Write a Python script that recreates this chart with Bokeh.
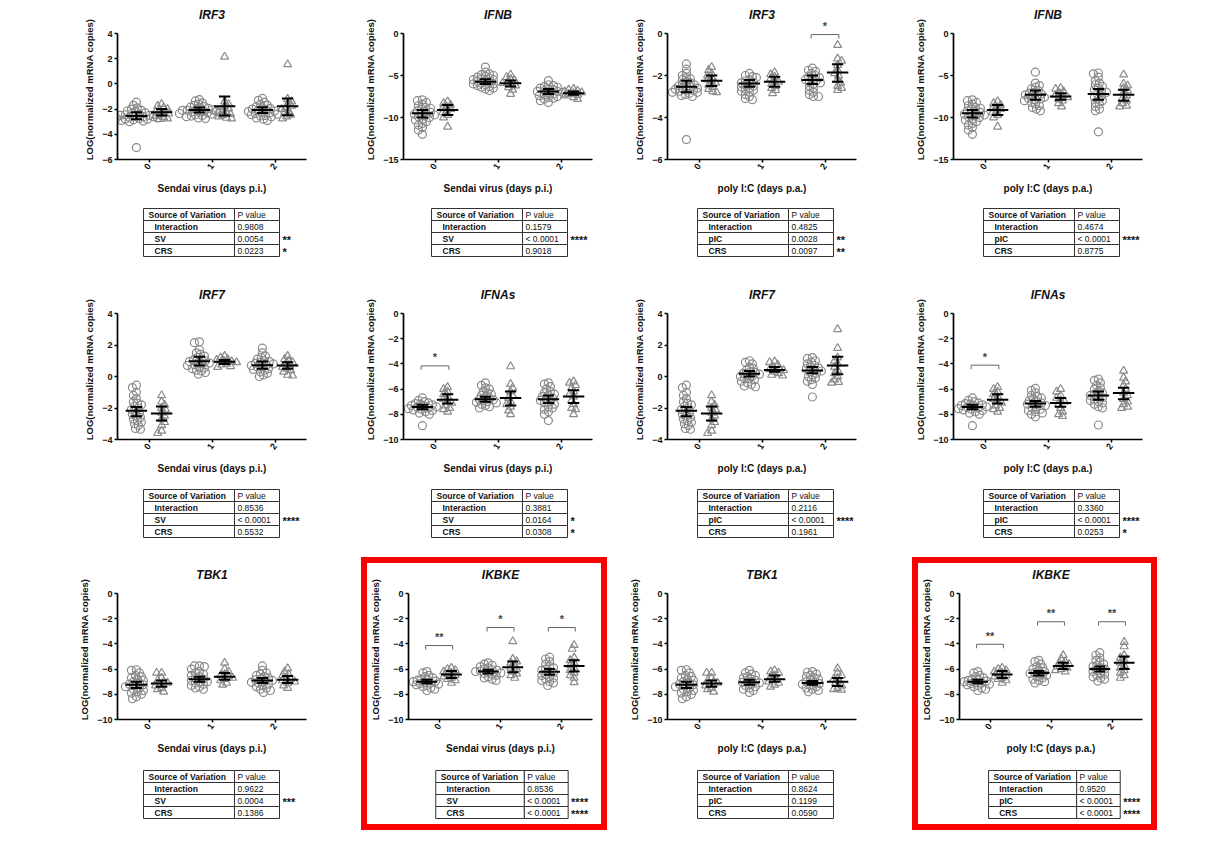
from bokeh.plotting import figure
from bokeh.models import Range1d, FixedTicker, ColumnDataSource, Spacer
from bokeh.layouts import row, column
from bokeh.embed import file_html
from bokeh.resources import INLINE
from bokeh.core.properties import value

FONT = "Liberation Sans"

# ---------------------------------------------------------------- data
days = [0, 1, 2]
sv_label = "Sendai virus (days p.i.)"
pic_label = "poly I:C (days p.a.)"
sv_rows = ["Interaction", "SV", "CRS"]
pic_rows = ["Interaction", "pIC", "CRS"]

# day 0 (shared by both stimulations)
irf3_d0_ctrl = [-1.45, -1.7, -1.9, -2.0, -2.1, -2.15, -2.2, -2.3, -2.35, -2.4, -2.45, -2.5, -2.5, -2.55, -2.6, -2.6, -2.65, -2.7, -2.7, -2.75, -2.8, -2.8, -2.85, -2.9, -2.95, -3.0, -5.05]
irf3_d0_crs = [-1.6, -1.75, -1.9, -2.0, -2.1, -2.2, -2.3, -2.35, -2.45, -2.55, -2.65, -2.75, -2.8]
ifnb_d0_ctrl = [-7.9, -8.0, -8.2, -8.4, -8.6, -8.8, -8.9, -9.0, -9.2, -9.3, -9.4, -9.5, -9.6, -9.7, -9.8, -9.9, -10.0, -10.2, -10.3, -10.5, -10.7, -10.9, -11.2, -11.5, -12.0]
ifnb_d0_crs = [-8.1, -8.3, -8.5, -8.7, -8.9, -9.0, -9.2, -9.4, -9.7, -10.0, -11.1]
irf7_d0_ctrl = [-0.55, -0.7, -1.0, -1.2, -1.4, -1.6, -1.7, -1.8, -1.9, -2.0, -2.1, -2.2, -2.3, -2.4, -2.5, -2.6, -2.7, -2.8, -2.9, -3.0, -3.1, -3.3, -3.35]
irf7_d0_crs = [-1.2, -1.6, -1.8, -2.0, -2.1, -2.3, -2.5, -2.7, -2.9, -3.1, -3.45, -3.6]
ifnas_d0_ctrl = [-6.7, -6.9, -7.0, -7.1, -7.15, -7.2, -7.25, -7.3, -7.35, -7.4, -7.45, -7.5, -7.55, -7.6, -7.65, -7.7, -7.8, -7.9, -8.0, -8.9]
ifnas_d0_crs = [-5.85, -6.0, -6.2, -6.4, -6.6, -6.8, -7.0, -7.1, -7.3, -7.5, -7.6, -7.8]
tbk1_d0_ctrl = [-6.05, -6.1, -6.3, -6.5, -6.6, -6.7, -6.8, -6.9, -7.0, -7.1, -7.2, -7.25, -7.3, -7.4, -7.5, -7.6, -7.7, -7.8, -7.9, -8.0, -8.2, -8.35]
tbk1_d0_crs = [-6.3, -6.3, -6.7, -6.9, -7.0, -7.1, -7.2, -7.3, -7.5, -7.6, -7.8]
ikbke_d0_ctrl = [-6.2, -6.3, -6.5, -6.6, -6.7, -6.8, -6.85, -6.9, -6.95, -7.0, -7.05, -7.1, -7.15, -7.2, -7.25, -7.3, -7.4, -7.5, -7.6, -7.7]
ikbke_d0_crs = [-5.9, -6.0, -6.1, -6.2, -6.3, -6.4, -6.5, -6.6, -6.7, -6.8, -6.9, -7.1]

# IRF3 / Sendai
irf3_sv_d1_ctrl = [-1.25, -1.35, -1.5, -1.6, -1.7, -1.8, -1.85, -1.9, -1.95, -2.0, -2.05, -2.1, -2.1, -2.15, -2.2, -2.2, -2.25, -2.3, -2.3, -2.35, -2.4, -2.45, -2.5, -2.55, -2.6, -2.7, -2.75]
irf3_sv_d1_crs = [2.15, -1.4, -1.6, -1.8, -1.95, -2.1, -2.2, -2.3, -2.4, -2.5, -2.6, -2.7, -2.75]
irf3_sv_d2_ctrl = [-1.15, -1.3, -1.45, -1.6, -1.7, -1.8, -1.9, -1.95, -2.0, -2.05, -2.1, -2.15, -2.2, -2.25, -2.3, -2.35, -2.4, -2.45, -2.5, -2.55, -2.6, -2.7, -2.8, -2.9]
irf3_sv_d2_crs = [1.55, -1.2, -1.4, -1.6, -1.75, -1.9, -2.0, -2.15, -2.3, -2.45, -2.6, -2.75]
irf3_sv_ctrl_ci = [(-2.8, -2.54, -2.25), (-2.27, -2.08, -1.87), (-2.3, -2.08, -1.85)]
irf3_sv_crs_ci = [(-2.5, -2.25, -2.0), (-2.5, -1.77, -1.0), (-2.48, -1.77, -1.16)]
irf3_sv_pvals = ["0.9808", "0.0054", "0.0223"]
irf3_sv_stars = ["", "**", "*"]

# IFNB / Sendai
ifnb_sv_d1_ctrl = [-4.0, -4.6, -4.8, -4.9, -5.0, -5.1, -5.2, -5.3, -5.4, -5.5, -5.5, -5.6, -5.7, -5.8, -5.9, -6.0, -6.0, -6.1, -6.2, -6.3, -6.4, -6.5, -6.6, -6.8]
ifnb_sv_d1_crs = [-4.9, -5.2, -5.4, -5.6, -5.8, -5.9, -6.0, -6.2, -6.4, -6.7, -7.2]
ifnb_sv_d2_ctrl = [-5.6, -6.1, -6.2, -6.3, -6.4, -6.5, -6.6, -6.7, -6.8, -6.9, -6.9, -7.0, -7.1, -7.2, -7.3, -7.4, -7.5, -7.6, -7.7, -7.8, -8.0, -8.2]
ifnb_sv_d2_crs = [-6.6, -6.7, -6.8, -6.9, -7.0, -7.1, -7.2, -7.3, -7.4, -7.6, -7.8]
ifnb_sv_ctrl_ci = [(-10.0, -9.5, -9.1), (-6.0, -5.73, -5.45), (-7.2, -6.9, -6.6)]
ifnb_sv_crs_ci = [(-9.7, -9.1, -8.5), (-6.3, -5.93, -5.6), (-7.3, -7.1, -6.9)]
ifnb_sv_pvals = ["0.1579", "< 0.0001", "0.9018"]
ifnb_sv_stars = ["", "****", ""]

# IRF3 / poly I:C
irf3_pic_d1_ctrl = [-1.9, -2.0, -2.05, -2.1, -2.2, -2.25, -2.3, -2.35, -2.4, -2.45, -2.5, -2.55, -2.6, -2.65, -2.7, -2.75, -2.8, -2.9, -3.0, -3.1, -3.15]
irf3_pic_d1_crs = [-1.85, -1.95, -2.05, -2.15, -2.25, -2.3, -2.4, -2.5, -2.6, -2.7, -2.85]
irf3_pic_d2_ctrl = [-1.65, -1.75, -1.8, -1.9, -2.0, -2.05, -2.1, -2.15, -2.2, -2.25, -2.3, -2.35, -2.4, -2.5, -2.6, -2.7, -2.8, -2.9, -3.0, -3.0]
irf3_pic_d2_crs = [-0.55, -1.2, -1.3, -1.5, -1.75, -1.9, -2.0, -2.2, -2.35, -2.5, -2.6, -2.7]
irf3_pic_ctrl_ci = [(-2.8, -2.54, -2.25), (-2.54, -2.38, -2.22), (-2.4, -2.22, -2.0)]
irf3_pic_crs_ci = [(-2.5, -2.25, -2.0), (-2.54, -2.3, -2.06), (-2.3, -1.86, -1.46)]
irf3_pic_brackets = [(2, -0.05, "*")]
irf3_pic_pvals = ["0.4825", "0.0028", "0.0097"]
irf3_pic_stars = ["", "**", "**"]

# IFNB / poly I:C
ifnb_pic_d1_ctrl = [-4.6, -5.9, -6.2, -6.4, -6.6, -6.8, -7.0, -7.1, -7.2, -7.3, -7.4, -7.5, -7.6, -7.7, -7.8, -7.9, -8.0, -8.2, -8.4, -8.6, -8.8, -9.0, -9.2]
ifnb_pic_d1_crs = [-6.5, -6.6, -6.9, -7.1, -7.3, -7.5, -7.6, -7.8, -8.0, -8.3, -8.7]
ifnb_pic_d2_ctrl = [-4.7, -4.8, -5.2, -5.6, -5.9, -6.1, -6.3, -6.5, -6.7, -6.9, -7.0, -7.2, -7.4, -7.6, -7.8, -8.0, -8.2, -8.4, -8.7, -9.0, -9.2, -11.7]
ifnb_pic_d2_crs = [-4.9, -6.0, -6.2, -6.5, -6.8, -7.0, -7.4, -7.7, -8.0, -8.3, -8.6, -8.7]
ifnb_pic_ctrl_ci = [(-10.0, -9.5, -9.1), (-7.9, -7.3, -6.8), (-7.9, -7.2, -6.6)]
ifnb_pic_crs_ci = [(-9.7, -9.1, -8.5), (-7.9, -7.5, -7.1), (-8.0, -7.3, -6.7)]
ifnb_pic_pvals = ["0.4674", "< 0.0001", "0.8775"]
ifnb_pic_stars = ["", "****", ""]

# IRF7 / Sendai
irf7_sv_d1_ctrl = [2.2, 2.15, 1.7, 1.5, 1.4, 1.3, 1.2, 1.1, 1.05, 1.0, 0.95, 0.9, 0.85, 0.8, 0.75, 0.7, 0.6, 0.55, 0.5, 0.4, 0.35, 0.25, 0.15]
irf7_sv_d1_crs = [1.3, 1.2, 1.1, 1.05, 1.0, 0.95, 0.9, 0.8, 0.75, 0.65, 0.6]
irf7_sv_d2_ctrl = [1.8, 1.5, 1.3, 1.2, 1.1, 1.0, 0.95, 0.9, 0.85, 0.8, 0.75, 0.7, 0.65, 0.6, 0.5, 0.45, 0.4, 0.3, 0.2, 0.1, 0.0]
irf7_sv_d2_crs = [1.3, 1.1, 1.0, 0.9, 0.8, 0.7, 0.6, 0.5, 0.4, 0.3, 0.1, 0.05]
irf7_sv_ctrl_ci = [(-2.52, -2.18, -1.93), (0.7, 0.97, 1.25), (0.5, 0.72, 0.95)]
irf7_sv_crs_ci = [(-2.8, -2.35, -1.9), (0.8, 0.93, 1.05), (0.5, 0.7, 0.9)]
irf7_sv_pvals = ["0.8536", "< 0.0001", "0.5532"]
irf7_sv_stars = ["", "****", ""]

# IFNAs / Sendai
ifnas_sv_d1_ctrl = [-5.5, -5.7, -5.9, -6.0, -6.2, -6.3, -6.4, -6.5, -6.6, -6.7, -6.8, -6.85, -6.9, -7.0, -7.05, -7.1, -7.2, -7.3, -7.4, -7.5]
ifnas_sv_d1_crs = [-4.2, -5.6, -5.9, -6.2, -6.5, -6.7, -7.0, -7.2, -7.4, -7.7, -8.0]
ifnas_sv_d2_ctrl = [-5.5, -5.6, -5.8, -6.0, -6.2, -6.3, -6.4, -6.5, -6.6, -6.7, -6.8, -6.9, -7.0, -7.1, -7.2, -7.4, -7.5, -7.6, -7.8, -8.0, -8.5]
ifnas_sv_d2_crs = [-5.4, -5.5, -5.7, -5.9, -6.2, -6.4, -6.6, -6.9, -7.2, -7.5, -7.6, -8.0]
ifnas_sv_ctrl_ci = [(-7.6, -7.42, -7.25), (-7.0, -6.8, -6.6), (-7.1, -6.8, -6.5)]
ifnas_sv_crs_ci = [(-7.15, -6.85, -6.4), (-7.3, -6.7, -6.2), (-7.1, -6.58, -6.1)]
ifnas_sv_brackets = [(0, -4.16, "*")]
ifnas_sv_pvals = ["0.3881", "0.0164", "0.0308"]
ifnas_sv_stars = ["", "*", "*"]

# IRF7 / poly I:C
irf7_pic_d1_ctrl = [1.0, 0.9, 0.8, 0.6, 0.5, 0.4, 0.3, 0.25, 0.2, 0.15, 0.1, 0.05, 0.0, -0.1, -0.15, -0.2, -0.3, -0.4, -0.5, -0.6, -0.65]
irf7_pic_d1_crs = [0.95, 0.9, 0.75, 0.6, 0.5, 0.45, 0.4, 0.3, 0.2, 0.1, 0.05]
irf7_pic_d2_ctrl = [1.2, 1.15, 1.0, 0.9, 0.8, 0.7, 0.6, 0.55, 0.5, 0.4, 0.35, 0.3, 0.2, 0.1, 0.0, -0.1, -0.2, -0.3, -0.5, -1.3]
irf7_pic_d2_crs = [3.0, 1.8, 1.2, 1.0, 0.8, 0.6, 0.4, 0.2, 0.0, -0.2, -0.35, -0.4]
irf7_pic_ctrl_ci = [(-2.52, -2.18, -1.93), (0.0, 0.17, 0.35), (0.2, 0.38, 0.6)]
irf7_pic_crs_ci = [(-2.8, -2.35, -1.9), (0.3, 0.42, 0.6), (0.15, 0.7, 1.25)]
irf7_pic_pvals = ["0.2116", "< 0.0001", "0.1961"]
irf7_pic_stars = ["", "****", ""]

# IFNAs / poly I:C
ifnas_pic_d1_ctrl = [-5.95, -6.1, -6.3, -6.5, -6.6, -6.7, -6.8, -6.9, -7.0, -7.1, -7.15, -7.2, -7.3, -7.4, -7.5, -7.6, -7.7, -7.8, -7.9, -8.0, -8.2]
ifnas_pic_d1_crs = [-6.0, -6.2, -6.5, -6.7, -6.9, -7.0, -7.2, -7.5, -7.8, -8.0, -8.15]
ifnas_pic_d2_ctrl = [-5.2, -5.3, -5.5, -5.7, -5.9, -6.0, -6.2, -6.3, -6.4, -6.5, -6.6, -6.7, -6.8, -6.9, -7.0, -7.1, -7.2, -7.4, -7.5, -8.85]
ifnas_pic_d2_crs = [-4.55, -5.1, -5.4, -5.7, -6.0, -6.3, -6.5, -6.8, -7.0, -7.2, -7.4, -7.5]
ifnas_pic_ctrl_ci = [(-7.6, -7.42, -7.25), (-7.4, -7.15, -6.95), (-6.85, -6.5, -6.2)]
ifnas_pic_crs_ci = [(-7.15, -6.85, -6.4), (-7.4, -7.1, -6.7), (-6.8, -6.3, -5.9)]
ifnas_pic_brackets = [(0, -4.1, "*")]
ifnas_pic_pvals = ["0.3360", "< 0.0001", "0.0253"]
ifnas_pic_stars = ["", "****", "*"]

# TBK1 / Sendai
tbk1_sv_d1_ctrl = [-5.75, -5.75, -5.8, -6.0, -6.2, -6.3, -6.4, -6.5, -6.6, -6.7, -6.8, -6.9, -7.0, -7.0, -7.1, -7.2, -7.3, -7.4, -7.5, -7.6]
tbk1_sv_d1_crs = [-5.5, -6.0, -6.2, -6.4, -6.5, -6.6, -6.7, -6.8, -6.9, -7.1, -7.25]
tbk1_sv_d2_ctrl = [-5.75, -6.1, -6.3, -6.4, -6.5, -6.6, -6.7, -6.8, -6.85, -6.9, -7.0, -7.05, -7.1, -7.2, -7.3, -7.4, -7.5, -7.6, -7.7, -7.85]
tbk1_sv_d2_crs = [-5.95, -6.2, -6.4, -6.5, -6.7, -6.8, -6.9, -7.0, -7.1, -7.3, -7.5]
tbk1_sv_ctrl_ci = [(-7.5, -7.25, -7.0), (-7.0, -6.8, -6.6), (-7.1, -6.9, -6.7)]
tbk1_sv_crs_ci = [(-7.4, -7.15, -6.9), (-6.85, -6.6, -6.3), (-7.1, -6.85, -6.55)]
tbk1_sv_pvals = ["0.9622", "0.0004", "0.1386"]
tbk1_sv_stars = ["", "***", ""]

# IKBKE / Sendai
ikbke_sv_d1_ctrl = [-5.5, -5.6, -5.7, -5.8, -5.9, -6.0, -6.05, -6.1, -6.15, -6.2, -6.25, -6.3, -6.35, -6.4, -6.5, -6.6, -6.7, -6.8, -6.9]
ikbke_sv_d1_crs = [-3.8, -5.2, -5.4, -5.5, -5.7, -5.9, -6.0, -6.2, -6.35, -6.5, -6.7]
ikbke_sv_d2_ctrl = [-5.05, -5.2, -5.4, -5.6, -5.8, -5.9, -6.0, -6.1, -6.2, -6.3, -6.4, -6.5, -6.6, -6.7, -6.8, -6.9, -7.0, -7.1, -7.3]
ikbke_sv_d2_crs = [-4.1, -4.4, -5.1, -5.3, -5.5, -5.7, -5.9, -6.1, -6.3, -6.5, -6.7, -7.05]
ikbke_sv_ctrl_ci = [(-7.15, -7.0, -6.85), (-6.35, -6.2, -6.05), (-6.45, -6.22, -6.0)]
ikbke_sv_crs_ci = [(-6.7, -6.42, -6.15), (-6.25, -5.85, -5.4), (-6.2, -5.75, -5.3)]
ikbke_sv_brackets = [(0, -4.13, "**"), (1, -2.7, "*"), (2, -2.7, "*")]
ikbke_sv_pvals = ["0.8536", "< 0.0001", "< 0.0001"]
ikbke_sv_stars = ["", "****", "****"]

# TBK1 / poly I:C
tbk1_pic_d1_ctrl = [-6.1, -6.3, -6.4, -6.5, -6.6, -6.7, -6.8, -6.9, -7.0, -7.05, -7.1, -7.2, -7.3, -7.4, -7.5, -7.6, -7.7, -7.85]
tbk1_pic_d1_crs = [-6.1, -6.2, -6.3, -6.5, -6.6, -6.8, -6.9, -7.0, -7.1, -7.25, -7.4]
tbk1_pic_d2_ctrl = [-6.2, -6.25, -6.4, -6.5, -6.6, -6.7, -6.8, -6.9, -7.0, -7.1, -7.15, -7.2, -7.3, -7.4, -7.5, -7.6, -7.7, -7.8]
tbk1_pic_d2_crs = [-5.95, -6.3, -6.5, -6.7, -6.8, -7.0, -7.1, -7.3, -7.5, -7.6, -7.65]
tbk1_pic_ctrl_ci = [(-7.5, -7.25, -7.0), (-7.25, -7.05, -6.85), (-7.25, -7.1, -6.95)]
tbk1_pic_crs_ci = [(-7.4, -7.15, -6.9), (-7.0, -6.8, -6.5), (-7.35, -7.0, -6.7)]
tbk1_pic_pvals = ["0.8624", "0.1199", "0.0590"]
tbk1_pic_stars = ["", "", ""]

# IKBKE / poly I:C
ikbke_pic_d1_ctrl = [-5.3, -5.4, -5.6, -5.8, -5.9, -6.0, -6.1, -6.2, -6.3, -6.35, -6.4, -6.5, -6.6, -6.7, -6.8, -6.9, -7.0, -7.1]
ikbke_pic_d1_crs = [-4.9, -5.2, -5.4, -5.5, -5.6, -5.7, -5.8, -5.9, -6.0, -6.1, -6.2]
ikbke_pic_d2_ctrl = [-4.7, -4.9, -5.1, -5.3, -5.45, -5.6, -5.7, -5.8, -5.9, -6.0, -6.1, -6.2, -6.3, -6.4, -6.5, -6.6, -6.7, -6.8, -6.95]
ikbke_pic_d2_crs = [-3.85, -4.2, -4.9, -5.1, -5.3, -5.5, -5.7, -5.9, -6.1, -6.3, -6.5, -6.7]
ikbke_pic_ctrl_ci = [(-7.15, -7.0, -6.85), (-6.5, -6.3, -6.15), (-6.2, -6.0, -5.8)]
ikbke_pic_crs_ci = [(-6.7, -6.42, -6.15), (-6.0, -5.75, -5.5), (-6.0, -5.5, -5.0)]
ikbke_pic_brackets = [(0, -4.03, "**"), (1, -2.24, "**"), (2, -2.24, "**")]
ikbke_pic_pvals = ["0.9520", "< 0.0001", "< 0.0001"]
ikbke_pic_stars = ["", "****", "****"]

# ---------------------------------------------------------------- panel list
panels = [
    [
        dict(gene="IRF3", yr=(-6, 4, 2), xl=sv_label, rows=sv_rows,
             ctrl=[irf3_d0_ctrl, irf3_sv_d1_ctrl, irf3_sv_d2_ctrl], crs=[irf3_d0_crs, irf3_sv_d1_crs, irf3_sv_d2_crs],
             ctrl_ci=irf3_sv_ctrl_ci, crs_ci=irf3_sv_crs_ci, br=[], p=irf3_sv_pvals, st=irf3_sv_stars),
        dict(gene="IFNB", yr=(-15, 0, 5), xl=sv_label, rows=sv_rows,
             ctrl=[ifnb_d0_ctrl, ifnb_sv_d1_ctrl, ifnb_sv_d2_ctrl], crs=[ifnb_d0_crs, ifnb_sv_d1_crs, ifnb_sv_d2_crs],
             ctrl_ci=ifnb_sv_ctrl_ci, crs_ci=ifnb_sv_crs_ci, br=[], p=ifnb_sv_pvals, st=ifnb_sv_stars),
        dict(gene="IRF3", yr=(-6, 0, 2), xl=pic_label, rows=pic_rows,
             ctrl=[irf3_d0_ctrl, irf3_pic_d1_ctrl, irf3_pic_d2_ctrl], crs=[irf3_d0_crs, irf3_pic_d1_crs, irf3_pic_d2_crs],
             ctrl_ci=irf3_pic_ctrl_ci, crs_ci=irf3_pic_crs_ci, br=irf3_pic_brackets, p=irf3_pic_pvals, st=irf3_pic_stars),
        dict(gene="IFNB", yr=(-15, 0, 5), xl=pic_label, rows=pic_rows,
             ctrl=[ifnb_d0_ctrl, ifnb_pic_d1_ctrl, ifnb_pic_d2_ctrl], crs=[ifnb_d0_crs, ifnb_pic_d1_crs, ifnb_pic_d2_crs],
             ctrl_ci=ifnb_pic_ctrl_ci, crs_ci=ifnb_pic_crs_ci, br=[], p=ifnb_pic_pvals, st=ifnb_pic_stars),
    ],
    [
        dict(gene="IRF7", yr=(-4, 4, 2), xl=sv_label, rows=sv_rows,
             ctrl=[irf7_d0_ctrl, irf7_sv_d1_ctrl, irf7_sv_d2_ctrl], crs=[irf7_d0_crs, irf7_sv_d1_crs, irf7_sv_d2_crs],
             ctrl_ci=irf7_sv_ctrl_ci, crs_ci=irf7_sv_crs_ci, br=[], p=irf7_sv_pvals, st=irf7_sv_stars),
        dict(gene="IFNAs", yr=(-10, 0, 2), xl=sv_label, rows=sv_rows,
             ctrl=[ifnas_d0_ctrl, ifnas_sv_d1_ctrl, ifnas_sv_d2_ctrl], crs=[ifnas_d0_crs, ifnas_sv_d1_crs, ifnas_sv_d2_crs],
             ctrl_ci=ifnas_sv_ctrl_ci, crs_ci=ifnas_sv_crs_ci, br=ifnas_sv_brackets, p=ifnas_sv_pvals, st=ifnas_sv_stars),
        dict(gene="IRF7", yr=(-4, 4, 2), xl=pic_label, rows=pic_rows,
             ctrl=[irf7_d0_ctrl, irf7_pic_d1_ctrl, irf7_pic_d2_ctrl], crs=[irf7_d0_crs, irf7_pic_d1_crs, irf7_pic_d2_crs],
             ctrl_ci=irf7_pic_ctrl_ci, crs_ci=irf7_pic_crs_ci, br=[], p=irf7_pic_pvals, st=irf7_pic_stars),
        dict(gene="IFNAs", yr=(-10, 0, 2), xl=pic_label, rows=pic_rows,
             ctrl=[ifnas_d0_ctrl, ifnas_pic_d1_ctrl, ifnas_pic_d2_ctrl], crs=[ifnas_d0_crs, ifnas_pic_d1_crs, ifnas_pic_d2_crs],
             ctrl_ci=ifnas_pic_ctrl_ci, crs_ci=ifnas_pic_crs_ci, br=ifnas_pic_brackets, p=ifnas_pic_pvals, st=ifnas_pic_stars),
    ],
    [
        dict(gene="TBK1", yr=(-10, 0, 2), xl=sv_label, rows=sv_rows,
             ctrl=[tbk1_d0_ctrl, tbk1_sv_d1_ctrl, tbk1_sv_d2_ctrl], crs=[tbk1_d0_crs, tbk1_sv_d1_crs, tbk1_sv_d2_crs],
             ctrl_ci=tbk1_sv_ctrl_ci, crs_ci=tbk1_sv_crs_ci, br=[], p=tbk1_sv_pvals, st=tbk1_sv_stars),
        dict(gene="IKBKE", yr=(-10, 0, 2), xl=sv_label, rows=sv_rows, ring=True,
             ctrl=[ikbke_d0_ctrl, ikbke_sv_d1_ctrl, ikbke_sv_d2_ctrl], crs=[ikbke_d0_crs, ikbke_sv_d1_crs, ikbke_sv_d2_crs],
             ctrl_ci=ikbke_sv_ctrl_ci, crs_ci=ikbke_sv_crs_ci, br=ikbke_sv_brackets, p=ikbke_sv_pvals, st=ikbke_sv_stars),
        dict(gene="TBK1", yr=(-10, 0, 2), xl=pic_label, rows=pic_rows,
             ctrl=[tbk1_d0_ctrl, tbk1_pic_d1_ctrl, tbk1_pic_d2_ctrl], crs=[tbk1_d0_crs, tbk1_pic_d1_crs, tbk1_pic_d2_crs],
             ctrl_ci=tbk1_pic_ctrl_ci, crs_ci=tbk1_pic_crs_ci, br=[], p=tbk1_pic_pvals, st=tbk1_pic_stars),
        dict(gene="IKBKE", yr=(-10, 0, 2), xl=pic_label, rows=pic_rows, ring=True,
             ctrl=[ikbke_d0_ctrl, ikbke_pic_d1_ctrl, ikbke_pic_d2_ctrl], crs=[ikbke_d0_crs, ikbke_pic_d1_crs, ikbke_pic_d2_crs],
             ctrl_ci=ikbke_pic_ctrl_ci, crs_ci=ikbke_pic_crs_ci, br=ikbke_pic_brackets, p=ikbke_pic_pvals, st=ikbke_pic_stars),
    ],
]

# ---------------------------------------------------------------- layout constants
GREY = "#8a8a8a"
FRAME_W = 189
AXIS_H = 126
EXTRA_TOP = 14
BOTTOM = 41
COL_W = [353, 246, 305, 245]
BORDER_L = [109, 42, 60, 41]
TOP_B = [11, 22, 22]
TABLE_H = [77, 77, 70]
TABLE_X = [135, 70, 90, 71]
TABLE_Y = [8, 9, 10]
RING = 6
CW1, CW2, RH = 91, 45, 12
OFF = 0.2
PPX = FRAME_W / 3.0
MARGIN = 8


def swarm(vals, ppu, dmin=4.1, step=1.0):
    order = sorted(range(len(vals)), key=lambda i: -vals[i])
    placed = []
    offs = [0.0] * len(vals)
    for k, i in enumerate(order):
        y = vals[i] * ppu
        chosen = None
        j = 0
        while chosen is None:
            for sgn in ((1, -1) if k % 2 == 0 else (-1, 1)):
                x = sgn * j * step
                if all((x - px) ** 2 + (y - py) ** 2 >= dmin * dmin for px, py in placed):
                    chosen = x
                    break
            j += 1
        placed.append((chosen, y))
        offs[i] = chosen
    return offs


def add_group(p, series, ci, off, marker, size, ppu):
    xs, ys = [], []
    for d in days:
        o = swarm(series[d], ppu)
        xs += [d + off + v / PPX for v in o]
        ys += list(series[d])
    p.scatter(x="x", y="y", source=ColumnDataSource(dict(x=xs, y=ys)), marker=marker, size=size,
              line_color=GREY, fill_color=None, line_width=1.2)
    x0, y0, x1, y1 = [], [], [], []
    for d in days:
        lo, m, hi = ci[d]
        c = d + off
        for a, b, cc, dd in [(c - 0.17, m, c + 0.17, m), (c, lo, c, hi),
                             (c - 0.09, lo, c + 0.09, lo), (c - 0.09, hi, c + 0.09, hi)]:
            x0.append(a); y0.append(b); x1.append(cc); y1.append(dd)
    p.segment(x0="x0", y0="y0", x1="x1", y1="y1", source=ColumnDataSource(dict(x0=x0, y0=y0, x1=x1, y1=y1)),
              line_color="black", line_width=2)


def make_plot(spec, ri, ci, r):
    ymin, ymax, ystep = spec["yr"]
    ppu = AXIS_H / float(ymax - ymin)
    w = COL_W[ci] - 2 * r
    bl = BORDER_L[ci] - r
    bt = TOP_B[ri] - r
    h = bt + AXIS_H + EXTRA_TOP + BOTTOM
    p = figure(width=w, height=h, title=spec["gene"], output_backend="svg", toolbar_location=None, tools="",
               x_range=Range1d(-0.5, 2.5), y_range=Range1d(ymin, ymax + EXTRA_TOP / ppu),
               min_border_left=bl, min_border_right=w - bl - FRAME_W, min_border_top=bt, min_border_bottom=BOTTOM)
    p.outline_line_color = None
    p.grid.visible = False
    p.background_fill_color = "white"
    p.border_fill_color = "white"
    p.title.text_font = FONT
    p.title.text_font_size = "12px"
    p.title.text_font_style = "bold italic"
    p.title.align = "center"
    p.title.standoff = -5
    p.title.text_color = "#111111"
    for ax in (p.xaxis[0], p.yaxis[0]):
        ax.axis_line_width = 1.7
        ax.axis_line_color = "black"
        ax.major_tick_line_width = 1.5
        ax.major_tick_line_color = "black"
        ax.major_tick_out = 3
        ax.major_tick_in = 0
        ax.minor_tick_line_color = None
        ax.major_label_text_font = FONT
        ax.major_label_text_font_size = "9px"
        ax.major_label_text_font_style = "bold"
        ax.major_label_text_color = "#111111"
        ax.major_label_standoff = 2
        ax.axis_label_text_font = FONT
        ax.axis_label_text_font_style = "bold"
        ax.axis_label_text_color = "#111111"
    p.yaxis.ticker = FixedTicker(ticks=list(range(ymin, ymax + 1, ystep)))
    p.yaxis.bounds = (ymin, ymax)
    p.yaxis.axis_label = "LOG(normalized mRNA copies)"
    p.yaxis.axis_label_text_font_size = "9.5px"
    p.yaxis.axis_label_standoff = 4
    p.xaxis.ticker = FixedTicker(ticks=days)
    p.xaxis.major_label_overrides = {0: "0", 1: "1", 2: "2"}
    p.xaxis.major_label_orientation = 0.95
    p.xaxis.axis_label = spec["xl"]
    p.xaxis.axis_label_text_font_size = "10px"
    p.xaxis.axis_label_standoff = 8

    add_group(p, spec["ctrl"], spec["ctrl_ci"], -OFF, "circle", 8, ppu)
    add_group(p, spec["crs"], spec["crs_ci"], OFF, "triangle", 8, ppu)

    if spec["br"]:
        bx0, by0, bx1, by1, tx, ty, tt = [], [], [], [], [], [], []
        tick = 4.0 / ppu
        for d, yb, lab in spec["br"]:
            a, b = d - 0.22, d + 0.22
            for s in [(a, yb, b, yb), (a, yb, a, yb - tick), (b, yb, b, yb - tick)]:
                bx0.append(s[0]); by0.append(s[1]); bx1.append(s[2]); by1.append(s[3])
            tx.append(d); ty.append(yb + 8.5 / ppu); tt.append(lab)
        p.segment(x0="x0", y0="y0", x1="x1", y1="y1",
                  source=ColumnDataSource(dict(x0=bx0, y0=by0, x1=bx1, y1=by1)), line_color="#666666", line_width=1)
        p.text(x="x", y="y", text="t", source=ColumnDataSource(dict(x=tx, y=ty, t=tt)),
               text_font=value(FONT), text_font_size="11px", text_font_style="bold", text_color="#444444",
               text_align="center", text_baseline="alphabetic")
    return p


def make_table(spec, ri, ci, r):
    # same frame as the plot above it (Bokeh aligns frames in a column);
    # x/y are expressed in pixels of this small canvas
    w = COL_W[ci] - 2 * r
    bl = BORDER_L[ci] - r
    h = TABLE_H[ri] - r
    x0 = TABLE_X[ci] - r
    y0 = TABLE_Y[ri]
    t = figure(width=w, height=h, output_backend="svg", toolbar_location=None, tools="",
               x_range=Range1d(bl, bl + FRAME_W), y_range=Range1d(h, 0), x_axis_type=None, y_axis_type=None,
               min_border_left=bl, min_border_right=w - bl - FRAME_W, min_border_top=0, min_border_bottom=0)
    t.outline_line_color = None
    t.grid.visible = False
    left, right, top, bottom = [], [], [], []
    for k in range(4):
        for a, b in [(x0, x0 + CW1), (x0 + CW1, x0 + CW1 + CW2)]:
            left.append(a); right.append(b); top.append(y0 + k * RH); bottom.append(y0 + (k + 1) * RH)
    t.quad(left="l", right="r", top="t", bottom="b", source=ColumnDataSource(dict(l=left, r=right, t=top, b=bottom)),
           fill_color="white", line_color="#333333", line_width=1)
    lab_text = ["Source of Variation"] + spec["rows"]
    lab_x = [x0 + 5] + [x0 + 11] * 3
    lab_y = [y0 + (k + 0.5) * RH for k in range(4)]
    t.text(x="x", y="y", text="t", source=ColumnDataSource(dict(x=lab_x, y=lab_y, t=lab_text)),
           text_font=value(FONT), text_font_size="8.5px", text_font_style="bold", text_color="#111111",
           text_align="left", text_baseline="middle")
    val_text = ["P value"] + spec["p"]
    val_x = [x0 + CW1 + 3] * 4
    t.text(x="x", y="y", text="t", source=ColumnDataSource(dict(x=val_x, y=lab_y, t=val_text)),
           text_font=value(FONT), text_font_size="8.5px", text_color="#111111",
           text_align="left", text_baseline="middle")
    st_x = [x0 + CW1 + CW2 + 3] * 3
    st_y = [y0 + (k + 1.5) * RH + 1.0 for k in range(3)]
    t.text(x="x", y="y", text="t", source=ColumnDataSource(dict(x=st_x, y=st_y, t=spec["st"])),
           text_font=value(FONT), text_font_size="11px", text_font_style="bold", text_color="#111111",
           text_align="left", text_baseline="alphabetic")
    return t


def red(w, h):
    return Spacer(width=w, height=h, styles={"background-color": "#ff0000"})


rows_out = []
for ri, prow in enumerate(panels):
    items = []
    for ci, spec in enumerate(prow):
        r = RING if spec.get("ring") else 0
        p = make_plot(spec, ri, ci, r)
        t = make_table(spec, ri, ci, r)
        inner = column(p, t)
        if r:
            W = COL_W[ci]
            Hin = p.height + t.height
            panel = column(red(W, r), row(red(r, Hin), inner, red(r, Hin)), red(W, r))
        else:
            panel = inner
        items.append(panel)
    rows_out.append(row(*items))

body = column(*rows_out)
layout = column(Spacer(width=10, height=MARGIN), row(Spacer(width=MARGIN, height=10), body))
open("out.html", "w").write(file_html(layout, INLINE, title="CRS qPCR panels"))
